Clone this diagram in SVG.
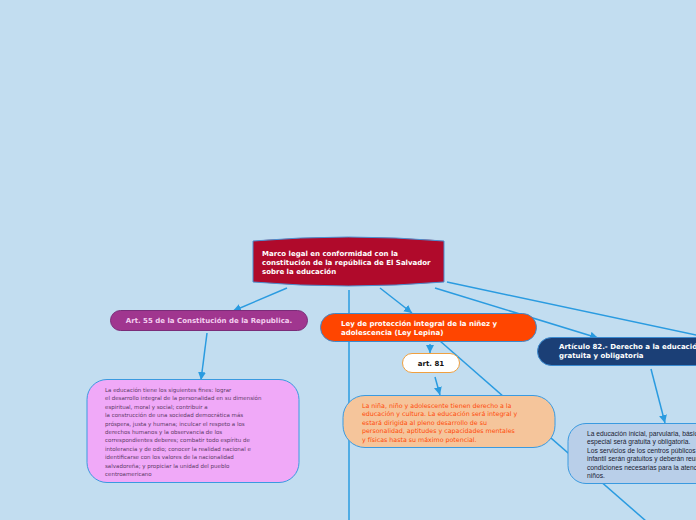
<svg xmlns="http://www.w3.org/2000/svg" width="696" height="520" viewBox="0 0 696 520">
<defs>
<marker id="arr" markerUnits="userSpaceOnUse" markerWidth="9" markerHeight="9" refX="8" refY="4.5" orient="auto">
<path d="M0,0.5 L8,4.5 L0,8.5 Z" fill="#2a9be0"/>
</marker>
<style>
.c{stroke:#2a9be0;stroke-width:1.5;fill:none}
.b{font-family:"DejaVu Sans",Verdana,sans-serif;font-weight:bold;font-size:7px}
.r{font-family:"DejaVu Sans",Verdana,sans-serif;font-size:5.5px}
.o{font-family:"DejaVu Sans",Verdana,sans-serif;font-size:6.3px;fill:#ff4a0a}
.a{font-family:"Liberation Sans",Arial,sans-serif;font-size:6.7px;fill:#1a2232}
</style>
</defs>
<rect width="696" height="520" fill="#c2ddf0"/>
<g id="connectors">
<line class="c" x1="349" y1="290" x2="349" y2="520"/>
<line class="c" x1="440" y1="341" x2="670" y2="542"/>
<line class="c" x1="447" y1="282" x2="710" y2="338"/>
<line class="c" x1="287" y1="288" x2="233" y2="311" marker-end="url(#arr)"/>
<line class="c" x1="380" y1="288" x2="412" y2="313" stroke-width="2.6" marker-end="url(#arr)"/>
<line class="c" x1="435" y1="288" x2="598" y2="338" marker-end="url(#arr)"/>
<line class="c" x1="207" y1="333" x2="201" y2="380" marker-end="url(#arr)"/>
<line class="c" x1="430" y1="344" x2="430" y2="353" marker-end="url(#arr)"/>
<line class="c" x1="435" y1="377" x2="440" y2="395" marker-end="url(#arr)"/>
<line class="c" x1="651" y1="369" x2="665" y2="423" marker-end="url(#arr)"/>
</g>
<g id="main">
<path d="M253,241 Q348,233 444,241 L444,282 Q348,290 253,282 Z" fill="#b00a2b" stroke="#4a8fd0" stroke-width="1"/>
<text class="b" fill="#ffffff"><tspan x="262" y="256">Marco legal en conformidad con la</tspan><tspan x="262" y="265">constitución de la república de El Salvador</tspan><tspan x="262" y="274">sobre la educación</tspan></text>
</g>
<g id="art55">
<rect x="110.5" y="310.5" width="197" height="20" rx="10" fill="#a0368f" stroke="#7a2c78" stroke-width="1"/>
<text class="b" fill="#f4cff0" x="209" y="323" text-anchor="middle">Art. 55 de la Constitución de la Republica.</text>
</g>
<g id="lepina">
<rect x="320.5" y="313.5" width="216" height="28" rx="14" fill="#ff4500" stroke="#3a8ad0" stroke-width="1"/>
<text class="b" fill="#ffffff"><tspan x="341" y="326">Ley de protección integral de la niñez y</tspan><tspan x="341" y="335">adolescencia (Ley Lepina)</tspan></text>
</g>
<g id="art81">
<rect x="402.5" y="353.5" width="57" height="19" rx="9.5" fill="#ffffff" stroke="#f0a040" stroke-width="1"/>
<text class="b" fill="#111111" x="431" y="366" text-anchor="middle">art. 81</text>
</g>
<g id="art82">
<rect x="537.5" y="337.5" width="180" height="28" rx="14" fill="#1b3f76" stroke="#3a8ad0" stroke-width="1"/>
<text class="b" fill="#ffffff"><tspan x="559" y="349">Artículo 82.- Derecho a la educación</tspan><tspan x="559" y="358">gratuita y obligatoria</tspan></text>
</g>
<g id="fines">
<rect x="87" y="379.5" width="212" height="103" rx="20" fill="#f0a9f8" stroke="#3a9ae0" stroke-width="1"/>
<text class="r" fill="#5c3a66"><tspan x="105" y="392">La educación tiene los siguientes fines: lograr</tspan><tspan x="105" y="400.4">el desarrollo integral de la personalidad en su dimensión</tspan><tspan x="105" y="408.8">espiritual, moral y social; contribuir a</tspan><tspan x="105" y="417.2">la construcción de una sociedad democrática más</tspan><tspan x="105" y="425.6">próspera, justa y humana; inculcar el respeto a los</tspan><tspan x="105" y="434">derechos humanos y la observancia de los</tspan><tspan x="105" y="442.4">correspondientes deberes; combatir todo espíritu de</tspan><tspan x="105" y="450.8">intolerancia y de odio; conocer la realidad nacional e</tspan><tspan x="105" y="459.2">identificarse con los valores de la nacionalidad</tspan><tspan x="105" y="467.6">salvadoreña; y propiciar la unidad del pueblo</tspan><tspan x="105" y="476">centroamericano</tspan></text>
</g>
<g id="derecho">
<rect x="343" y="395.5" width="212" height="52" rx="22" fill="#f5c59b" stroke="#3a9ae0" stroke-width="1"/>
<text class="o"><tspan x="362" y="407.5">La niña, niño y adolescente tienen derecho a la</tspan><tspan x="362" y="416">educación y cultura. La educación será integral y</tspan><tspan x="362" y="424.5">estará dirigida al pleno desarrollo de su</tspan><tspan x="362" y="433">personalidad, aptitudes y capacidades mentales</tspan><tspan x="362" y="441.5">y físicas hasta su máximo potencial.</tspan></text>
</g>
<g id="gratuita">
<rect x="568" y="423.5" width="160" height="60" rx="18" fill="#b9cfe9" stroke="#3a9ae0" stroke-width="1"/>
<text class="a"><tspan x="587" y="435.5">La educación inicial, parvularia, básica, media y</tspan><tspan x="587" y="444">especial será gratuita y obligatoria.</tspan><tspan x="587" y="452.5">Los servicios de los centros públicos de desarrollo</tspan><tspan x="587" y="461">infantil serán gratuitos y deberán reunir las</tspan><tspan x="587" y="469.5">condiciones necesarias para la atención de las niñas y</tspan><tspan x="587" y="478">niños.</tspan></text>
</g>
</svg>
